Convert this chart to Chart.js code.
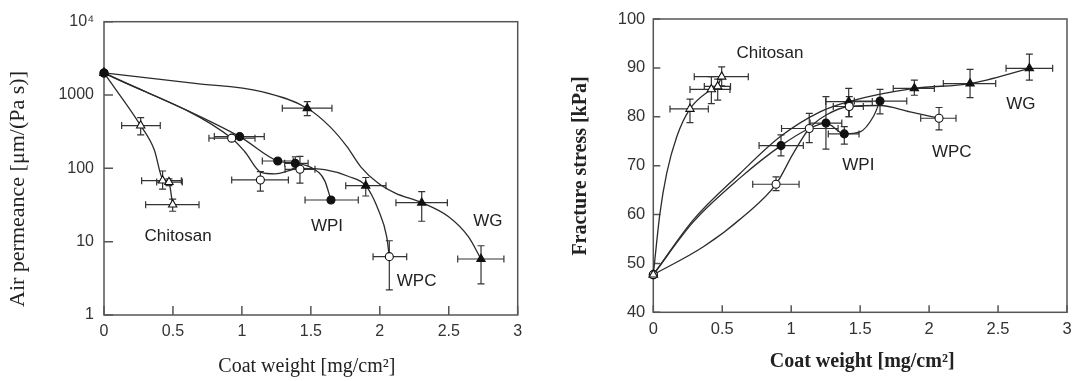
<!DOCTYPE html>
<html><head><meta charset="utf-8">
<script src="https://cdn.jsdelivr.net/npm/chart.js@4/dist/chart.umd.min.js"></script>
<style>
html,body{margin:0;padding:0;background:#fff;}
#wrap{position:relative;width:1080px;height:381px;overflow:hidden;}
canvas{position:absolute;top:0;}
#c1{left:0;} #c2{left:540px;}
</style></head><body>
<div id="wrap"><canvas id="c1" width="540" height="381"></canvas><canvas id="c2" width="540" height="381"></canvas></div>
<script>
// ---------- shared x axis ----------
const coatWeightTicks = [0, 0.5, 1, 1.5, 2, 2.5, 3];
const coatWeightLabels = ['0', '0.5', '1', '1.5', '2', '2.5', '3'];

// ---------- Left panel: air permeance (log) ----------
const permTicks = [1, 10, 100, 1000, 10000];
const permTickLabels = ['1', '10', '100', '1000', '10\u2074'];
// [coat weight, value, xLow, xHigh, yLow, yHigh]
const permChitosan = [[0,2000],[0.266,383,0.128,0.408,286,492],[0.425,68,0.273,0.561,52,92],[0.471,65,0.382,0.568,58,72],[0.498,32,0.302,0.689,26,38]];
const permWPI = [[0,2000],[0.984,271,0.80,1.162],[1.26,126,1.148,1.372],[1.387,117,1.31,1.48,100,144],[1.646,37,1.458,1.844]];
const permWPC = [[0,2000],[0.926,258,0.761,1.095],[1.134,69.5,0.926,1.337,49,90],[1.421,97,1.313,1.53,63,146],[2.069,6.25,1.951,2.195,2.2,10.3]];
const permWG = [[0,2000],[1.474,661,1.293,1.653,524,813],[1.898,58,1.753,2.045,42,75],[2.304,34,2.117,2.49,19,48],[2.734,5.8,2.565,2.9,2.65,8.8]];
// fitted curves
const permChitosanCurve = [[0,2000],[0.266,383],[0.365,178],[0.425,72],[0.471,64],[0.498,32]];
const permWPICurve = [[0,2000],[0.984,271],[1.26,126],[1.387,117],[1.50,103],[1.60,68],[1.646,37]];
const permWPCCurve = [[0,2000],[0.926,258],[1.02,170],[1.14,88],[1.24,84],[1.36,95],[1.42,100],[1.6,96],[1.77,78],[1.898,58],[1.99,27],[2.05,11.7],[2.069,6.25]];
const permWGCurve = [[0,2000],[0.66,1445],[1.143,1113],[1.474,661],[1.638,371],[1.762,198],[1.862,105],[1.987,63],[2.112,46],[2.304,34],[2.497,22],[2.642,11.7],[2.734,5.8]];
const permLabels = [['Chitosan',0.537,12],['WPI',1.617,16],['WPC',2.267,2.85],['WG',2.783,18.8]];

// ---------- Right panel: fracture stress ----------
const stressTicks = [40, 50, 60, 70, 80, 90, 100];
const stressChitosan = [[0,47.7],[0.266,81.6,0.121,0.399,78.8,83.6],[0.421,85.6,0.266,0.556,82.7,88.2],[0.467,86.2,0.37,0.56,83.4,87.7],[0.496,88.2,0.297,0.689,86.3,90.2]];
const stressWPI = [[0,47.7],[0.926,74.1,0.767,1.088,72,76.3],[1.252,78.7,1.137,1.367,73.4,84.1],[1.385,76.5,1.269,1.492,74.4,78],[1.644,83.2,1.458,1.838,80.6,85.6]];
const stressWPC = [[0,47.7],[0.89,66.2,0.721,1.057,64.9,67.7],[1.131,77.6,0.93,1.34,74.7,80.7],[1.421,82.1,1.305,1.523,80,84.1],[2.072,79.7,1.939,2.195,77.3,81.9]];
const stressWG = [[0,47.7],[1.417,83.1,1.25,1.588,80,85.8],[1.893,85.8,1.74,2.038,84.4,87.5],[2.297,86.8,2.103,2.483,83.9,89.7],[2.727,89.9,2.558,2.896,87.5,92.8]];
const stressChitosanCurve = [[0,47.7],[0.048,60.2],[0.097,68.4],[0.17,75.9],[0.266,81.6],[0.421,85.6],[0.467,86.4],[0.496,88.2]];
const stressWPICurve = [[0,47.7],[0.29,58.5],[0.629,67.5],[0.926,74.1],[1.131,77.6],[1.252,78.7],[1.385,76.5],[1.499,76.9],[1.595,80],[1.644,83.2]];
const stressWPCCurve = [[0,47.7],[0.363,53.4],[0.653,59.6],[0.89,66.2],[1.015,72.5],[1.131,77.6],[1.257,80.4],[1.421,82.1],[1.644,82.3],[1.862,81],[2.072,79.7]];
const stressWGCurve = [[0,47.7],[0.29,58.9],[0.629,68.4],[0.919,75.9],[1.209,81],[1.417,83.1],[1.893,85.8],[2.297,86.8],[2.727,89.9]];
const stressLabels = [['Chitosan',0.846,93.0],['WPI',1.487,70.1],['WPC',2.164,72.8],['WG',2.665,82.6]];

// ---------- helpers ----------
const INK = '#2b2b2b';
const toPts = arr => arr.map(p => ({x:p[0], y:p[1], xLo:p[2], xHi:p[3], yLo:p[4], yHi:p[5]}));
const toXY = arr => arr.map(p => ({x:p[0], y:p[1]}));
function curve(arr){ return {type:'line', data:toXY(arr), borderColor:INK, borderWidth:1.3, pointRadius:0, cubicInterpolationMode:'monotone', fill:false, clip:false, order:10}; }
function markers(arr, style, fillColor, r, order){ return {type:'scatter', data:toPts(arr), errorBars:true, pointStyle:style, pointRadius:r, pointBackgroundColor:fillColor, pointBorderColor:'#111', pointBorderWidth:1.1, showLine:false, clip:false, order:order}; }

const frame = {
  id:'frame',
  beforeDatasetsDraw(chart, args, o){
    const {ctx, chartArea:a, scales} = chart;
    ctx.save();
    ctx.strokeStyle = o.color; ctx.lineWidth = o.width;
    ctx.strokeRect(a.left, a.top, a.right-a.left, a.bottom-a.top);
    ctx.beginPath();
    scales.x.ticks.forEach(t => { const px = scales.x.getPixelForValue(t.value); ctx.moveTo(px, a.bottom); ctx.lineTo(px, a.bottom - o.len); });
    scales.y.ticks.forEach(t => { const py = scales.y.getPixelForValue(t.value); ctx.moveTo(a.left, py); ctx.lineTo(a.left + o.len, py); });
    ctx.stroke();
    // error bars
    ctx.strokeStyle = o.barColor; ctx.lineWidth = o.barWidth;
    const xs = scales.x, ys = scales.y, c = o.cap;
    chart.data.datasets.forEach(ds => {
      if (!ds.errorBars) return;
      ds.data.forEach(p => {
        const px = xs.getPixelForValue(p.x), py = ys.getPixelForValue(p.y);
        ctx.beginPath();
        if (p.xLo != null) {
          const l = xs.getPixelForValue(p.xLo), r = xs.getPixelForValue(p.xHi);
          ctx.moveTo(l, py); ctx.lineTo(r, py);
          ctx.moveTo(l, py-c); ctx.lineTo(l, py+c);
          ctx.moveTo(r, py-c); ctx.lineTo(r, py+c);
        }
        if (p.yLo != null) {
          const b = ys.getPixelForValue(p.yLo), t = ys.getPixelForValue(p.yHi);
          ctx.moveTo(px, b); ctx.lineTo(px, t);
          ctx.moveTo(px-c, b); ctx.lineTo(px+c, b);
          ctx.moveTo(px-c, t); ctx.lineTo(px+c, t);
        }
        ctx.stroke();
      });
    });
    ctx.restore();
  },
  afterDraw(chart, args, o){
    const {ctx, chartArea:a, scales} = chart;
    ctx.save();
    ctx.fillStyle = o.textColor; ctx.textAlign = 'center'; ctx.textBaseline = 'middle';
    ctx.font = o.labelFont;
    o.labels.forEach(l => ctx.fillText(l[0], scales.x.getPixelForValue(l[1]), scales.y.getPixelForValue(l[2])));
    ctx.font = o.xTitleFont;
    ctx.fillText(o.xTitle, (a.left + a.right)/2 + o.xTitleDx, o.xTitleY);
    ctx.translate(o.yTitleX, o.yTitleY); ctx.rotate(-Math.PI/2);
    ctx.font = o.yTitleFont; ctx.fillText(o.yTitle, 0, 0);
    ctx.restore();
  }
};

function makeChart(id, cfg){
  return new Chart(document.getElementById(id), {
    type:'scatter',
    data:{datasets:cfg.datasets},
    plugins:[frame],
    options:{
      responsive:false, animation:false, devicePixelRatio:1,
      layout:{padding:cfg.padding},
      plugins:{legend:{display:false}, tooltip:{enabled:false}, frame:cfg.frame},
      scales:{
        x:{type:'linear', min:0, max:3,
           afterBuildTicks: s => { s.ticks = coatWeightTicks.map(v => ({value:v})); },
           afterFit: s => { s.height = cfg.xHeight; },
           grid:{display:false, drawTicks:false}, border:{display:false},
           ticks:{autoSkip:false, maxRotation:0, padding:cfg.xPad, color:'#333', font:{family:'Liberation Sans, Arial, sans-serif', size:cfg.tickSize},
                  callback:(v,i) => coatWeightLabels[i]}},
        y:cfg.y
      }
    }
  });
}

makeChart('c1', {
  padding:{left:0, right:22.3, top:21.7, bottom:0},
  xHeight:66, xPad:7, tickSize:16,
  datasets:[
    curve(permChitosanCurve), curve(permWPICurve), curve(permWPCCurve), curve(permWGCurve),
    markers(permWPI, 'circle', '#111', 4, 1),
    markers(permWPC, 'circle', '#fff', 4, 2),
    markers(permWG, 'triangle', '#111', 4.8, 3),
    markers(permChitosan, 'triangle', '#fff', 4.8, 4)
  ],
  y:{type:'logarithmic', min:1, max:10000,
     afterBuildTicks: s => { s.ticks = permTicks.map(v => ({value:v})); },
     afterFit: s => { s.width = 104; },
     grid:{display:false, drawTicks:false}, border:{display:false},
     ticks:{padding:10, color:'#333', font:{family:'Liberation Sans, Arial, sans-serif', size:16}, callback:(v,i) => permTickLabels[i]}},
  frame:{color:'#555', width:1.5, len:9, barColor:'#333', barWidth:1.2, cap:3.5, textColor:'#222',
         labelFont:'17px "Liberation Sans", Arial, sans-serif', labels:permLabels,
         xTitle:'Coat weight [mg/cm\u00B2]', xTitleFont:'20px "Liberation Serif", "Times New Roman", serif', xTitleDx:-4, xTitleY:367,
         yTitle:'Air permeance [\u03BCm/(Pa s)]', yTitleFont:'22px "Liberation Serif", "Times New Roman", serif', yTitleX:18, yTitleY:189}
});

makeChart('c2', {
  padding:{left:0, right:13, top:19, bottom:0},
  xHeight:68.7, xPad:7, tickSize:16.5,
  datasets:[
    curve(stressChitosanCurve), curve(stressWPICurve), curve(stressWPCCurve), curve(stressWGCurve),
    markers(stressWPI, 'circle', '#111', 4, 3),
    markers(stressWPC, 'circle', '#fff', 4, 2),
    markers(stressWG, 'triangle', '#111', 4.8, 4),
    markers(stressChitosan, 'triangle', '#fff', 4.8, 1)
  ],
  y:{type:'linear', min:40, max:100,
     afterBuildTicks: s => { s.ticks = stressTicks.map(v => ({value:v})); },
     afterFit: s => { s.width = 113.3; },
     grid:{display:false, drawTicks:false}, border:{display:false},
     ticks:{padding:8, color:'#333', font:{family:'Liberation Sans, Arial, sans-serif', size:16.5}, callback:(v,i) => String(stressTicks[i])}},
  frame:{color:'#555', width:1.5, len:7, barColor:'#333', barWidth:1.2, cap:3.5, textColor:'#222',
         labelFont:'17px "Liberation Sans", Arial, sans-serif', labels:stressLabels,
         xTitle:'Coat weight [mg/cm\u00B2]', xTitleFont:'bold 20px "Liberation Serif", "Times New Roman", serif', xTitleDx:2, xTitleY:362,
         yTitle:'Fracture stress [kPa]', yTitleFont:'bold 20px "Liberation Serif", "Times New Roman", serif', yTitleX:40.7, yTitleY:166}
});
</script>
</body></html>
